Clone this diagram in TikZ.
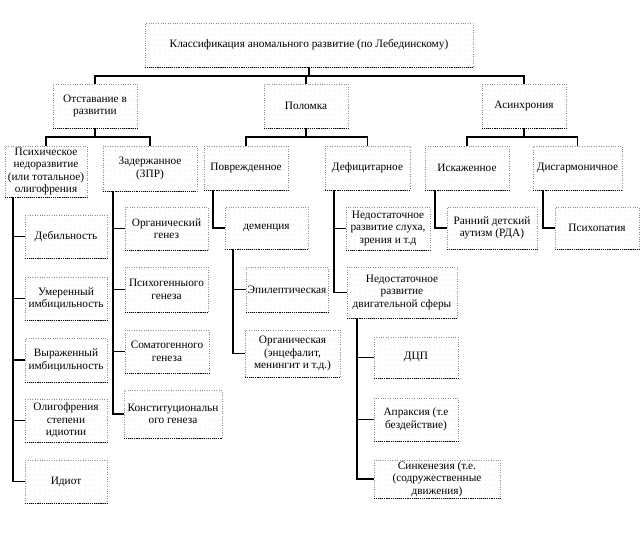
\documentclass[tikz,border=0pt]{standalone}
\usepackage{fontspec}
\setmainfont{Liberation Serif}
\usetikzlibrary{patterns}
\pgfdeclarepatternformonly{sparsedots}{\pgfpoint{-1pt}{-1pt}}{\pgfpoint{1pt}{1pt}}{\pgfpoint{5pt}{5pt}}{\pgfpathcircle{\pgfpointorigin}{0.45pt}\pgfusepath{fill}}
\tikzset{
  box/.style={draw=gray!90, dotted, pattern=sparsedots, pattern color=gray!60,
    align=center, inner sep=1pt, text=black, font=\fontsize{11.3}{12.5}\selectfont},
  sz/.style 2 args={minimum width=#1pt, minimum height=#2pt},
  link/.style={line width=1.6pt, black},
  rim/.style={line width=1.1pt, densely dotted, black}
}

\begin{document}
\begin{tikzpicture}[x=1pt,y=-1pt]
  \useasboundingbox (0,0) rectangle (643,540);
  % top
  \node[box,sz={328}{44}] (root) at (309,45) {Классификация аномального развитие (по Лебединскому)};
  \node[box,sz={84}{44}] (otst) at (95,106) {Отставание в\\развитии};
  \node[box,sz={84}{44}] (polom) at (306,106) {Поломка};
  \node[box,sz={84}{44}] (asinh) at (524,106) {Асинхрония};
  % third row
  \node[box,sz={82}{51}] (psih) at (46,171.5) {Психическое\\недоразвитие\\(или тотальное)\\олигофрения};
  \node[box,sz={94}{45}] (zader) at (150,168.5) {Задержанное\\(ЗПР)};
  \node[box,sz={84}{44}] (povr) at (246,168) {Поврежденное};
  \node[box,sz={85}{44}] (defic) at (367.5,168) {Дефицитарное};
  \node[box,sz={84}{44}] (iskaz) at (467,168) {Искаженное};
  \node[box,sz={89}{44}] (disg) at (577.5,168) {Дисгармоничное};
  % oligophrenia column
  \node[box,sz={82}{43}] (debil) at (66,236.5) {Дебильность};
  \node[box,sz={82}{43}] (umer) at (66,298.5) {Умеренный\\имбицильность};
  \node[box,sz={82}{44}] (vyraz) at (66,360) {Выраженный\\имбицильность};
  \node[box,sz={82}{43}] (oligo) at (66,420.5) {Олигофрения\\степени\\идиотии};
  \node[box,sz={82}{43}] (idiot) at (66,481.5) {Идиот};
  % ZPR column
  \node[box,sz={83}{43}] (orggen) at (166.5,228.5) {Органический\\генез};
  \node[box,sz={83}{45}] (psihogen) at (166.5,289.5) {Психогенныого\\генеза};
  \node[box,sz={84}{43}] (somato) at (167,351.5) {Соматогенного\\генеза};
  \node[box,sz={98}{48}] (konstit) at (173,414) {Конституциональн\\ого генеза};
  % damaged
  \node[box,sz={83}{42}] (demen) at (266.5,228) {деменция};
  \node[box,sz={82}{45}] (epilep) at (287,289.5) {Эпилептическая};
  \node[box,sz={95}{47}] (organ) at (292.5,353.5) {Органическая\\(энцефалит,\\менингит и т.д.)};
  % deficient
  \node[box,sz={84}{43}] (sluh) at (388,228.5) {Недостаточное\\развитие слуха,\\зрения и т.д};
  \node[box,sz={110}{51}] (dvig) at (402,292.5) {Недостаточное\\развитие\\двигательной сферы};
  \node[box,sz={84}{41}] (dcp) at (416,357.5) {ДЦП};
  \node[box,sz={84}{43}] (aprak) at (416,419.5) {Апраксия (т.е\\бездействие)};
  \node[box,sz={126}{38}] (sinkin) at (437,479) {Синкенезия (т.е.\\(содружественные\\движения)};
  % distorted / disharmonic
  \node[box,sz={90}{42}] (rda) at (492,228) {Ранний детский\\аутизм (РДА)};
  \node[box,sz={84}{42}] (psihop) at (597,228) {Психопатия};

  \foreach \n in {root,otst,polom,asinh,psih,zader,povr,defic,iskaz,disg,debil,umer,vyraz,oligo,idiot,orggen,psihogen,somato,konstit,demen,epilep,organ,sluh,dvig,dcp,aprak,sinkin,rda,psihop}
    \draw[rim] (\n.south west) -- (\n.south east);

  % tree links
  \foreach \c in {otst,polom,asinh}
    \draw[link] (root.south) -- ++(0,9) -| (\c.north);
  \foreach \c in {psih,zader}
    \draw[link] (otst.south) -- ++(0,9) -| (\c.north);
  \foreach \c in {povr,defic}
    \draw[link] (polom.south) -- ++(0,9) -| (\c.north);
  \foreach \c in {iskaz,disg}
    \draw[link] (asinh.south) -- ++(0,9) -| (\c.north);
  % side links
  \foreach \c in {debil,umer,vyraz,oligo,idiot}
    \draw[link] ([xshift=8pt]psih.south west) |- (\c.west);
  \foreach \c in {orggen,psihogen,somato,konstit}
    \draw[link] ([xshift=10pt]zader.south west) |- (\c.west);
  \draw[link] ([xshift=9pt]povr.south west) |- (demen.west);
  \foreach \c in {epilep,organ}
    \draw[link] ([xshift=8pt]demen.south west) |- (\c.west);
  \foreach \c in {sluh,dvig}
    \draw[link] ([xshift=9pt]defic.south west) |- (\c.west);
  \foreach \c in {dcp,aprak,sinkin}
    \draw[link] ([xshift=10pt]dvig.south west) |- (\c.west);
  \draw[link] ([xshift=10pt]iskaz.south west) |- (rda.west);
  \draw[link] ([xshift=10pt]disg.south west) |- (psihop.west);
\end{tikzpicture}
\end{document}
